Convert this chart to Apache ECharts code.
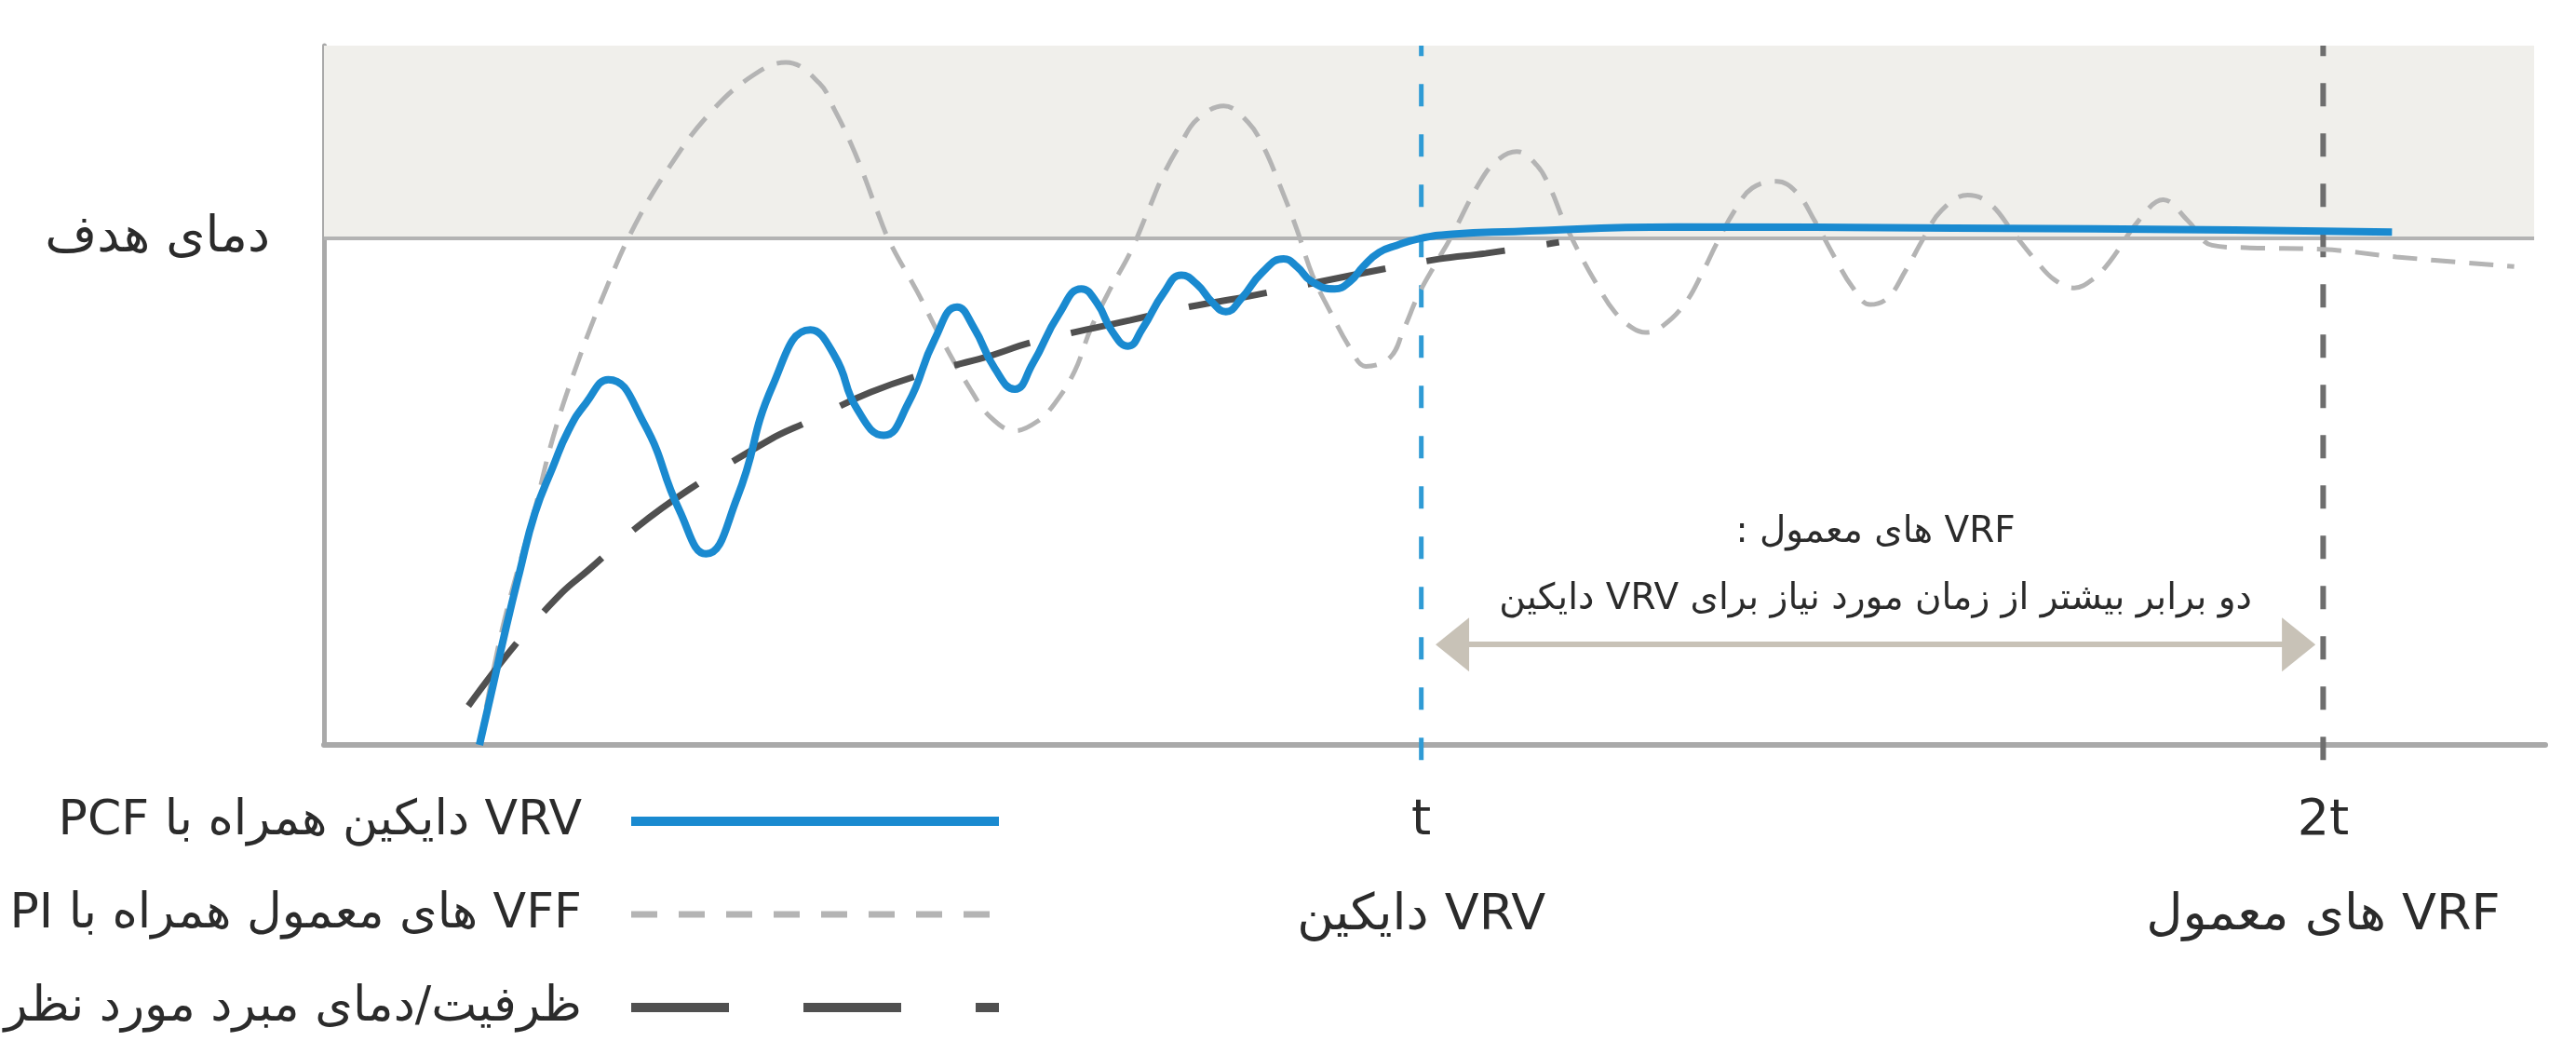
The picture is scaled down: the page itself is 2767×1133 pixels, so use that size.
<!DOCTYPE html>
<html>
<head>
<meta charset="utf-8">
<script src="https://cdn.jsdelivr.net/npm/echarts@6/dist/echarts.min.js"></script>
<style>
html,body{margin:0;padding:0;background:#ffffff;}
#chart{width:2767px;height:1133px;direction:rtl;}
</style>
</head>
<body>
<div id="chart"></div>
<script>
// ---------- data ----------
const seriesNames = ['VRV دایکین همراه با PCF', 'VFF های معمول همراه با PI', 'ظرفیت/دمای مبرد مورد نظر'];

// Daikin VRV with PCF (solid blue)
const pcfTime = [7.0, 7.6, 8.2, 8.8, 9.5, 10.3, 11.0, 11.8, 12.8, 14.4, 16.0, 17.2, 18.6, 20.2, 21.9, 23.0, 24.0, 25.2, 26.3, 27.5, 28.5, 29.25, 30.2, 31.1, 31.9, 33.1, 34.1, 34.8, 35.5, 36.2, 36.85, 37.8, 38.6, 39.3, 40.0, 40.6, 41.3, 42.25, 43.2, 43.8, 44.45, 45.5, 46.2, 46.8, 47.5, 48.3, 49.3, 50.8, 53.6, 60.9, 73.4, 86.0, 93.1];
const pcfTemp = [0, 11.5, 23.2, 34.0, 45.8, 54.8, 62.0, 67.5, 72.1, 63.5, 46.3, 37.7, 48.8, 70.9, 81.9, 76.7, 66.3, 61.1, 67.4, 80.1, 86.4, 82.4, 74.3, 70.2, 75.2, 85.1, 90.0, 87.2, 81.5, 78.7, 82.2, 89.2, 92.7, 90.9, 87.3, 85.5, 88.1, 93.3, 95.9, 94.4, 91.5, 90.0, 91.5, 94.5, 97.2, 98.6, 99.9, 100.8, 101.3, 102.2, 102.0, 101.6, 101.2];

// Conventional VRF with PI (light grey dashed)
const piTime = [7.0, 8.0, 9.5, 10.3, 11.3, 12.7, 14.0, 15.6, 17.3, 19.2, 20.8, 22.3, 23.0, 23.7, 24.3, 24.9, 25.5, 26.7, 27.8, 29.1, 30.0, 31.1, 32.1, 32.9, 33.8, 34.5, 35.4, 36.3, 37.1, 37.8, 38.6, 39.3, 40.5, 41.6, 42.3, 43.0, 43.8, 44.5, 45.3, 46.2, 46.9, 48.0, 48.6, 49.3, 50.1, 50.7, 52.0, 52.8, 53.7, 54.6, 55.2, 55.8, 56.5, 57.3, 58.1, 58.9, 59.5, 60.3, 61.3, 62.1, 62.7, 63.5, 64.3, 65.4, 66.3, 67.1, 68.0, 68.8, 69.6, 70.4, 71.2, 72.0, 72.8, 74.0, 75.0, 76.1, 77.1, 77.9, 78.8, 79.6, 80.4, 81.7, 82.8, 83.9, 85.0, 86.7, 90.0, 93.3, 98.6];
const piTemp = [0, 22.4, 46.7, 60.5, 74.0, 90.0, 102.6, 114.4, 124.3, 131.8, 134.7, 130.6, 125.2, 118.9, 112.5, 105.4, 99.0, 89.5, 80.1, 70.2, 64.7, 62.0, 63.8, 67.4, 73.8, 81.9, 90.0, 97.2, 105.4, 112.6, 118.9, 123.4, 126.1, 122.9, 118.0, 110.8, 101.7, 92.7, 85.5, 78.3, 74.7, 76.5, 81.9, 89.1, 95.4, 99.9, 110.8, 115.3, 117.1, 114.4, 109.9, 103.5, 97.2, 90.9, 85.5, 82.3, 81.4, 82.8, 87.3, 93.6, 99.0, 105.4, 109.9, 111.2, 109.0, 103.5, 96.3, 90.4, 86.9, 88.2, 93.6, 99.9, 105.4, 108.5, 106.8, 100.8, 95.4, 91.8, 90.2, 91.8, 95.4, 103.5, 107.6, 103.5, 98.6, 98.1, 97.8, 96.3, 94.4];

// Required capacity / refrigerant temperature (dark dashed)
const capTime = [6.5, 8.6, 10.7, 11.9, 14.1, 16.4, 20.1, 21.8, 24.6, 27.5, 29.7, 32.0, 36.3, 39.0, 41.7, 46.4, 50.2, 52.3, 55.6];
const capTemp = [7.7, 19.7, 30.0, 34.5, 43.0, 50.3, 60.3, 63.8, 69.6, 73.9, 76.4, 79.6, 83.8, 86.5, 88.6, 92.8, 95.9, 97.0, 99.2];

const targetTemp = 100;
const yMax = 138;
const xMax = 100;
const bandEnd = 99.5;
const xTickValues = [49.4, 90.0];
const xTickLabels = ['t\nVRV دایکین', '2t\nVRF های معمول'];
const yTickValues = [100];
const yTickLabels = ['دمای هدف'];
const vLineSpan = [-3, 138];
const arrowFrom = 50.8, arrowTo = 88.9, arrowLevel = 19.8;
const arrowText = 'VRF های معمول :\nدو برابر بیشتر از زمان مورد نیاز برای VRV دایکین';

const zip = (a, b) => a.map((v, i) => [v, b[i]]);

const FONT = '"DejaVu Sans", sans-serif';
const TEXT = '#2b2b2b';

const chart = echarts.init(document.getElementById('chart'), null, {renderer: 'canvas'});
chart.setOption({
  animation: false,
  backgroundColor: '#ffffff',
  grid: {left: 348, right: 33, top: 49, bottom: 333, containLabel: false},
  xAxis: {
    type: 'value', min: 0, max: xMax,
    axisLine: {show: true, lineStyle: {color: '#a9a9a9', width: 6}},
    axisTick: {show: false},
    splitLine: {show: false},
    axisLabel: {
      customValues: xTickValues,
      formatter: v => xTickLabels[xTickValues.indexOf(v)] || '',
      fontFamily: FONT, fontSize: 54, lineHeight: 102, color: TEXT, margin: 31
    }
  },
  yAxis: {
    type: 'value', min: 0, max: yMax,
    axisLine: {show: true, lineStyle: {color: '#a9a9a9', width: 5}},
    axisTick: {show: false},
    splitLine: {show: false},
    axisLabel: {
      customValues: yTickValues,
      formatter: v => yTickLabels[yTickValues.indexOf(v)] || '',
      fontFamily: FONT, fontSize: 54, color: TEXT, margin: 58
    }
  },
  legend: {
    orient: 'vertical', right: 1689, top: 852, padding: 0,
    align: 'right', itemWidth: 395, itemHeight: 12, itemGap: 40,
    selectedMode: false,
    textStyle: {fontFamily: FONT, fontSize: 52, lineHeight: 60, color: TEXT, padding: [0, 48, 0, 0]},
    data: [
      {name: seriesNames[0], itemStyle: {opacity: 0}, lineStyle: {color: '#1a8ad0', width: 10, type: 'solid'}},
      {name: seriesNames[1], itemStyle: {opacity: 0}, lineStyle: {color: '#b4b4b4', width: 7, type: [28, 23]}},
      {name: seriesNames[2], itemStyle: {opacity: 0}, lineStyle: {color: '#505050', width: 10, type: [105, 80]}}
    ]
  },
  series: [
    {
      name: 'band', type: 'line', data: [], z: 1, silent: true,
      markArea: {
        silent: true,
        itemStyle: {color: '#f0efeb'},
        data: [[{coord: [0, targetTemp]}, {coord: [bandEnd, yMax]}]]
      },
      markLine: {
        silent: true, z: 2, symbol: ['none', 'none'],
        label: {show: false},
        lineStyle: {color: '#b3b3b3', width: 4, type: 'solid'},
        data: [[{coord: [0, targetTemp]}, {coord: [bandEnd, targetTemp]}]]
      }
    },
    {
      name: 'arrow', type: 'line', data: [], z: 2, silent: true,
      markLine: {
        silent: true, z: 2,
        symbol: ['triangle', 'triangle'], symbolSize: [58, 36],
        lineStyle: {color: '#c8c2b7', width: 6, type: 'solid'},
        itemStyle: {color: '#c8c2b7'},
        label: {
          show: true, position: 'middle', distance: 12,
          formatter: arrowText,
          fontFamily: FONT, fontSize: 39, lineHeight: 72, color: TEXT
        },
        data: [[{coord: [arrowFrom, arrowLevel]}, {coord: [arrowTo, arrowLevel]}]]
      }
    },
    {
      name: 'tLine', type: 'line', z: 2, silent: true, clip: false, symbol: 'none',
      data: vLineSpan.map(y => [xTickValues[0], y]),
      lineStyle: {color: '#2f9bd5', width: 5, type: [24, 30]}
    },
    {
      name: 't2Line', type: 'line', z: 2, silent: true, clip: false, symbol: 'none',
      data: vLineSpan.map(y => [xTickValues[1], y]),
      lineStyle: {color: '#6e6e6e', width: 6, type: [25, 29]}
    },
    {
      name: seriesNames[1], type: 'line', z: 3, symbol: 'none', smooth: 0.4,
      data: zip(piTime, piTemp),
      lineStyle: {color: '#b4b4b4', width: 5, type: [26, 15]},
      itemStyle: {color: '#b4b4b4'}
    },
    {
      name: seriesNames[2], type: 'line', z: 4, symbol: 'none', smooth: 0.4,
      data: zip(capTime, capTemp),
      lineStyle: {color: '#505050', width: 7, type: [85, 45]},
      itemStyle: {color: '#505050'}
    },
    {
      name: seriesNames[0], type: 'line', z: 5, symbol: 'none', smooth: 0.5,
      data: zip(pcfTime, pcfTemp),
      lineStyle: {color: '#1a8ad0', width: 8, type: 'solid'},
      itemStyle: {color: '#1a8ad0'}
    }
  ]
});
</script>
</body>
</html>
